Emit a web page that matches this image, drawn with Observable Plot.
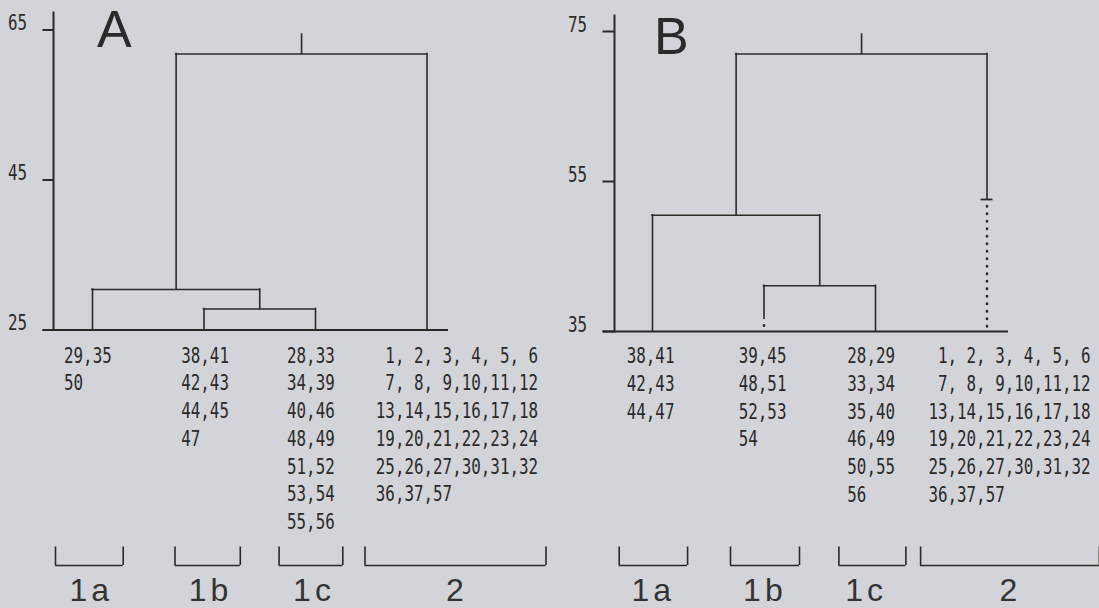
<!DOCTYPE html>
<html>
<head>
<meta charset="utf-8">
<script src="https://cdn.jsdelivr.net/npm/d3@7"></script>
<script src="https://cdn.jsdelivr.net/npm/@observablehq/plot@0.6"></script>
<style>
  html, body { margin:0; padding:0; background:#d3d4d9; }
  #fig { display:flex; width:1099px; height:608px; overflow:hidden; }
  #fig svg { display:block; flex:none; }
</style>
</head>
<body>
<div id="fig"></div>
<script>
// ---------- data ----------
const clusters = ["1a", "1b", "1c", "2"];
const merges = [["1b", "1c"], ["1a", "1b+1c"], ["1a+1b+1c", "2"]];
const heightsA = [27.8, 30.4, 61.8];
const heightsB = [41.1, 50.5, 72.0];
const rootTopA = 64.4;
const rootTopB = 74.6;
const leafTopA = [25, 25, 25, 25];
const leafTopB = [35, 36.7, 35, 52.6];
const leafBarA = [false, false, false, false];
const leafBarB = [false, false, false, true];
const ticksA = [25, 45, 65];
const ticksB = [35, 55, 75];
const group2 = [1, 2, 3, 4, 5, 6, 7, 8, 9, 10, 11, 12, 13, 14, 15, 16, 17, 18,
                19, 20, 21, 22, 23, 24, 25, 26, 27, 30, 31, 32, 36, 37, 57];
const membersA = [
  [29, 35, 50],
  [38, 41, 42, 43, 44, 45, 47],
  [28, 33, 34, 39, 40, 46, 48, 49, 51, 52, 53, 54, 55, 56],
  group2
];
const membersB = [
  [38, 41, 42, 43, 44, 47],
  [39, 45, 48, 51, 52, 53, 54],
  [28, 29, 33, 34, 35, 40, 46, 49, 50, 55, 56],
  group2
];
const perRow = [2, 2, 2, 6];

// ---------- styling / layout ----------
const INK = "#2a2a2a";
const BG = "#d3d4d9";
const MONO = "'DejaVu Sans Mono', monospace";
const SANS = "'Liberation Sans', Arial, Helvetica, sans-serif";
const MONO_SIZE = 20.6;
const CONDENSE = 0.77;

const layoutA = {
  name: "A", width: 560, marginLeft: 53, marginRight: 112, top: 12, baseY: 329.5,
  pxPerUnit: 7.5, tickSize: 10.5, letterDx: 43.5, letterDy: -2,
  textTop: 342.5, bracketTop: 546.5, bracketBottom: 565, labelTop: 578,
  textDx: [-28.5, -22.8, -28.5, -51.2],
  bracket: [[-37, 30.7], [-29, 36.3], [-36.4, 27.3], [-62, 119]],
  labelDx: [-3.3, 4.5, -3.5, 28]
};
const layoutB = {
  name: "B", width: 539, marginLeft: 54, marginRight: 91, top: 15, baseY: 331,
  pxPerUnit: 7.5, tickSize: 11.5, letterDx: 39.5, letterDy: 2,
  textTop: 343, bracketTop: 546.5, bracketBottom: 565, labelTop: 578,
  textDx: [-25.8, -25.3, -28.2, -58.6],
  bracket: [[-33.3, 35.1], [-33.5, 35.5], [-36.6, 30.4], [-66.4, 112.4]],
  labelDx: [-1.3, -1.1, -11.4, 21.4]
};

function panel(L, heights, rootTop, leafTop, leafBar, ticks, members) {
  const H = 608;
  const base = ticks[0];
  const top = base + (L.baseY - L.top) / L.pxPerUnit;

  // dendrogram segments from the merge list
  const nodes = new Map(clusters.map((c, i) => [c, {x: i, y: leafTop[i]}]));
  const hSeg = [], vSeg = [];
  merges.forEach(([a, b], k) => {
    const A = nodes.get(a), B = nodes.get(b), y = heights[k];
    hSeg.push({x1: A.x, x2: B.x, y});
    vSeg.push({x: A.x, y1: A.y, y2: y}, {x: B.x, y1: B.y, y2: y});
    nodes.set(a + "+" + b, {x: (A.x + B.x) / 2, y});
  });
  const root = nodes.get(merges[merges.length - 1].join("+"));
  vSeg.push({x: root.x, y1: root.y, y2: rootTop});
  const dotted = clusters.map((c, i) => ({x: i, y1: leafTop[i], y2: base})).filter(d => d.y1 > d.y2);
  const bars = clusters.map((c, i) => ({x: i, y: leafTop[i], on: leafBar[i]})).filter(d => d.on);

  const rows = members.map((m, i) => {
    const r = [];
    for (let j = 0; j < m.length; j += perRow[i])
      r.push(m.slice(j, j + perRow[i]).map(n => String(n).padStart(2, "\u00A0")).join(","));
    return r.join("\n");
  });

  const lineStyle = {stroke: INK, strokeWidth: 1.6, strokeLinecap: "square"};
  const bh = L.bracketBottom - L.bracketTop;
  const marks = [
    Plot.frame({anchor: "left", stroke: INK, strokeWidth: 2}),
    Plot.ruleY([base], {insetLeft: -L.tickSize, stroke: INK, strokeWidth: 2}),
    Plot.axisY(ticks, {tickSize: L.tickSize, tickPadding: 16, tickFormat: d => String(d),
      label: null, lineAnchor: "bottom", strokeWidth: 2, fontSize: MONO_SIZE, fill: INK}),
    Plot.ruleY(hSeg, {y: "y", x1: "x1", x2: "x2", ...lineStyle}),
    Plot.ruleX(vSeg, {x: "x", y1: "y1", y2: "y2", ...lineStyle}),
    Plot.ruleX(dotted, {x: "x", y1: "y1", y2: "y2", stroke: INK, strokeWidth: 2.6,
      strokeDasharray: "0.5,7", strokeDashoffset: 0.5, strokeLinecap: "round"}),
    Plot.ruleY(bars, {y: "y", x1: "x", x2: "x", insetLeft: -6, insetRight: -6, stroke: INK, strokeWidth: 1.8}),
    Plot.text([L.name], {frameAnchor: "top-left", dx: L.letterDx, dy: L.letterDy, lineAnchor: "top",
      textAnchor: "start", fontFamily: SANS, fontSize: 52, fill: INK}),
    ...clusters.flatMap((c, i) => {
      const [l, r] = L.bracket[i];
      const side = (off) => Plot.ruleX([i], {x: d => d, y1: () => base, y2: () => base,
        insetBottom: -bh, dx: off, dy: L.bracketTop - L.baseY, stroke: INK, strokeWidth: 1.6});
      return [
        Plot.text([rows[i]], {x: () => i, y: () => base, text: d => d, dx: L.textDx[i],
          dy: L.textTop - L.baseY, lineAnchor: "top", textAnchor: "start",
          lineHeight: 1.347, fontFamily: MONO, fontSize: MONO_SIZE, fill: INK}),
        Plot.ruleY([base], {x1: () => i, x2: () => i, insetLeft: l, insetRight: -r,
          dy: L.bracketBottom - L.baseY, stroke: INK, strokeWidth: 1.6}),
        side(l),
        side(r),
        Plot.text([c], {x: () => i, y: () => base, text: d => d, dx: L.labelDx[i] + 2,
          dy: L.labelTop - L.baseY, lineAnchor: "top", textAnchor: "middle",
          fontFamily: SANS, fontSize: 32, fill: "#333"})
      ];
    })
  ];

  return Plot.plot({
    width: L.width, height: H,
    marginLeft: L.marginLeft, marginRight: L.marginRight,
    marginTop: L.top, marginBottom: H - L.baseY,
    x: {domain: [0, 3], range: [92, 426.5], axis: null},
    y: {domain: [base, top]},
    style: {background: BG, color: INK, fontFamily: MONO, fontSize: MONO_SIZE + "px", overflow: "visible"},
    marks
  });
}

function condense(svg) {
  d3.select(svg).selectAll("text").each(function() {
    if (this.closest('[font-family*="Liberation"]')) return;
    const t = this.getAttribute("transform") || "";
    const x = +this.getAttribute("x") || 0, y = +this.getAttribute("y") || 0;
    this.removeAttribute("x"); this.removeAttribute("y");
    this.setAttribute("transform", `${t} translate(${x},${y}) scale(${CONDENSE},1)`);
  });
  d3.select(svg).selectAll('g[font-size="32"] text').attr("letter-spacing", 4);
}

const fig = document.getElementById("fig");
const svgA = panel(layoutA, heightsA, rootTopA, leafTopA, leafBarA, ticksA, membersA);
const svgB = panel(layoutB, heightsB, rootTopB, leafTopB, leafBarB, ticksB, membersB);
[svgA, svgB].forEach(s => { condense(s); fig.appendChild(s); });
</script>
</body>
</html>
